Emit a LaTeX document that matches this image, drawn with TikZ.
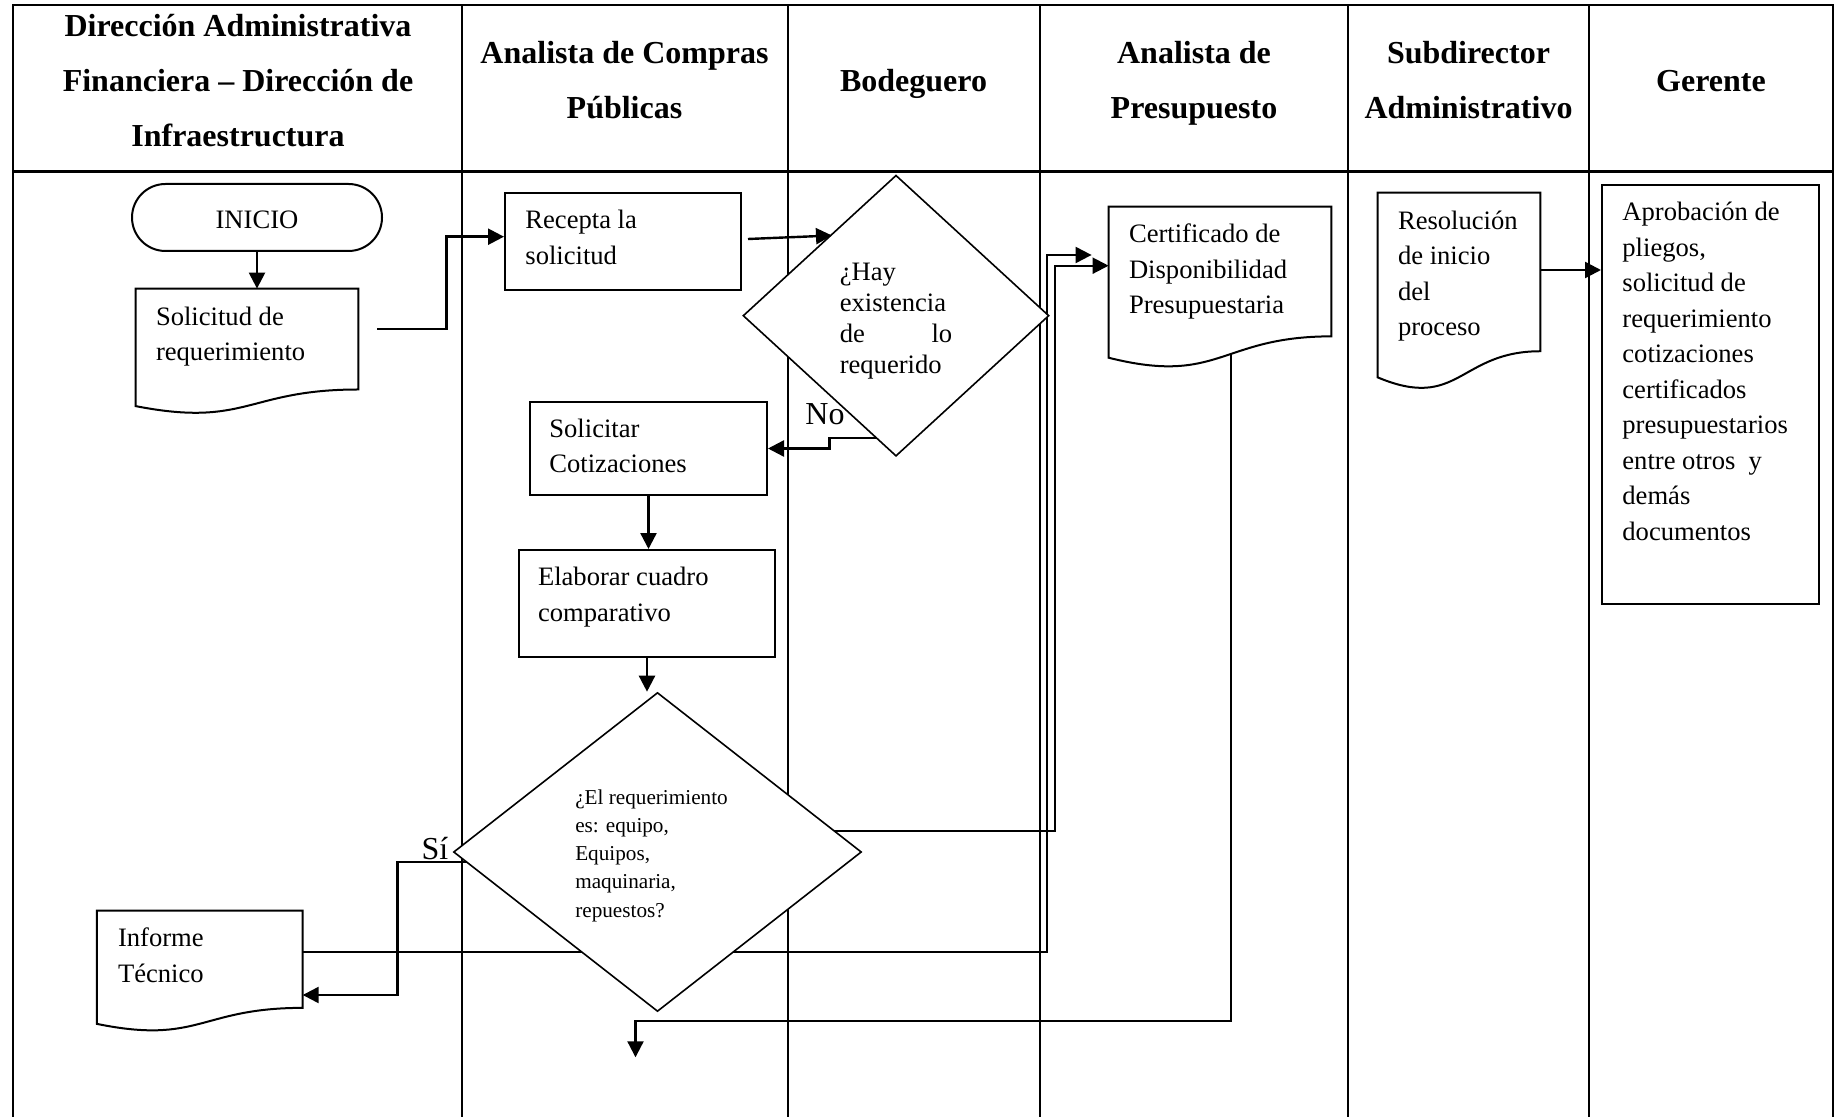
\documentclass[tikz,border=0pt]{standalone}
\usepackage{fontspec}
\setmainfont{Liberation Serif}
\usetikzlibrary{arrows.meta,calc,shapes.geometric,shapes.misc}
\pgfdeclarelayer{under}
\pgfdeclarelayer{docs}
\pgfsetlayers{under,docs,main}

% outline of a "document" flowchart symbol drawn around an empty node
\newcommand\docoutline[1]{%
  \begin{pgfonlayer}{docs}
    \draw[docline] (#1.north west) -- (#1.north east)
      -- ($(#1.north east)!0.802!(#1.south east)$)
      .. controls ($(#1.north)!0.802!(#1.south)$) and ($(#1.north)!1.107!(#1.south)$)
      .. ($(#1.north west)!0.934!(#1.south west)$) -- cycle;
  \end{pgfonlayer}}
% uniform line height for the header cells
\newcommand\hl{\vphantom{Ápy}}

\begin{document}
\begin{tikzpicture}[x=0.5pt, y=-0.5pt,
  lane/.style={line width=1pt},
  headsep/.style={line width=1.4pt},
  hdr/.style={font=\fontsize{16}{27.5}\selectfont\bfseries, align=center, inner sep=0pt},
  txt/.style={font=\fontsize{13.3}{17.75}\selectfont, align=left, inner sep=0pt, anchor=north west},
  procbox/.style={draw, line width=1pt, fill=white, inner sep=0pt},
  docbox/.style={inner sep=0pt},
  docline/.style={draw, line width=1pt, fill=white},
  decision/.style={diamond, draw, line width=0.8pt, fill=white, inner sep=0pt},
  branch/.style={font=\fontsize{16}{19}\selectfont, inner sep=0pt},
  flow/.style={line width=1.2pt, -{Triangle[length=8pt,width=8pt]}},
  thinflow/.style={line width=1.05pt, -{Triangle[length=8pt,width=8pt]}},
]
\useasboundingbox (0,0) rectangle (1836,1117);

% ---------- swimlane headers ----------
\node[hdr] (h1) at (238,81) {Dirección Administrativa\hl\\Financiera – Dirección de\hl\\Infraestructura\hl};
\node[hdr] (h2) at (624.5,81) {Analista de Compras\hl\\Públicas\hl};
\node[hdr] (h3) at (913.5,81) {Bodeguero\hl};
\node[hdr] (h4) at (1194,81) {Analista de\hl\\Presupuesto\hl};
\node[hdr] (h5) at (1468.5,81) {Subdirector\hl\\Administrativo\hl};
\node[hdr] (h6) at (1711,81) {Gerente\hl};

% ---------- flowchart symbols ----------
\node[procbox, rounded rectangle, minimum width=125pt, minimum height=33.5pt,
      font=\fontsize{13.3}{17.75}\selectfont] (ini) at (257,217.5)
     {\raisebox{-5.6pt}[0pt][0pt]{INICIO}};
\node[docbox, minimum width=111pt, minimum height=62.5pt] (sol) at (247,351.5) {};
\node[procbox, minimum width=118pt, minimum height=48.5pt] (rec) at (623,241.5) {};
\node[decision, minimum width=153pt, minimum height=140.5pt] (hay) at (896,315.7) {};
\node[procbox, minimum width=118.5pt, minimum height=46.5pt] (solc) at (648.5,448.5) {};
\node[procbox, minimum width=128pt, minimum height=53.5pt] (ela) at (647,603.5) {};
\node[decision, minimum width=204pt, minimum height=159.5pt] (req) at (657.5,852) {};
\node[docbox, minimum width=102.5pt, minimum height=60.3pt] (inf) at (199.8,971.2) {};
\node[docbox, minimum width=111pt, minimum height=80.5pt] (cert) at (1220,287.5) {};
\node[docbox, minimum width=81pt, minimum height=98.5pt] (res) at (1459,291.5) {};
\node[procbox, minimum width=108.5pt, minimum height=209.5pt] (apr) at (1710.5,394.5) {};

\docoutline{sol}
\docoutline{inf}
\docoutline{cert}
\docoutline{res}

% ---------- texts of the symbols ----------
\node[txt] (tsol) at ($(sol.north west)+(20,18)$) {Solicitud de\\requerimiento};
\node[txt] (trec) at ($(rec.north west)+(21,18)$) {Recepta la\\solicitud};
\node[txt] (tsolc) at ($(solc.north west)+(20,17.5)$) {Solicitar\\Cotizaciones};
\node[txt] (tela) at ($(ela.north west)+(19.6,18)$) {Elaborar cuadro\\comparativo};
\node[txt] (tinf) at ($(inf.north west)+(20.7,17)$) {Informe\\Técnico};
\node[txt] (tcert) at ($(cert.north west)+(20,17)$) {Certificado de\\Disponibilidad\\Presupuestaria};
\node[txt] (tres) at ($(res.north west)+(20,18)$) {Resolución\\de inicio\\del\\proceso};
\node[txt] (tapr) at ($(apr.north west)+(21,18)$)
     {Aprobación de\\pliegos,\\solicitud de\\requerimiento\\cotizaciones\\certificados\\presupuestarios\\entre otros~ y\\demás\\documentos};
\node[align=left, inner sep=0pt, font=\fontsize{13.3}{15.5}\selectfont] (thay)
     at ($(hay.center)+(0,5.5)$)
     {¿Hay\\existencia\\\makebox[56.25pt][s]{de\hfill lo}\\requerido};
\node[align=left, inner sep=0pt, font=\fontsize{10.6}{14.15}\selectfont] (treq)
     at ($(req.center)+(-6,3.5)$)
     {¿El requerimiento\\es: equipo,\\Equipos,\\maquinaria,\\repuestos?};

\node[branch] (no) at (825,414) {No};
\node[branch] (si) at (435,849) {Sí};

% ---------- lanes and connectors ----------
\begin{pgfonlayer}{under}
  \draw[lane] (13.3,1117) -- (13.3,5) -- (1832.7,5) -- (1832.7,1117);
  \draw[headsep] (13.3,171.7) -- (1832.7,171.7);
  \foreach \x in {461.7,787.5,1040,1348,1589}
    \draw[lane] (\x,5) -- (\x,1117);

  \draw[flow] (ini.south) -- (ini.south |- sol.north);
  \draw[flow] ($(sol.east)+(19,-22.5)$) -- ++(69,0) |- ($(rec.west)+(0,-4.8)$);
  \draw[flow] ($(rec.east)+(6,-2.5)$) -- ($(hay.center)+(-64,-80.2)$);
  \draw[flow] ($(hay.center)+(0,122.6)$) -- ++(-66.5,0) |- (solc.east);
  \draw[flow] (solc.south) -- (solc.south |- ela.north);
  \draw[flow] (ela.south) -- (ela.south |- req.north);
  \draw[flow] ($(req.west)+(20,9.7)$) -- ($(req.west)+(-55.2,9.7)$) |- ($(inf.east)+(0,23.8)$);
  \draw[thinflow] ($(inf.east)+(0,-19.5)$) -| ($(cert.west)+(-62,-32.5)$) -- ($(cert.west)+(-17,-32.5)$);
  \draw[thinflow] ($(req.center)+(100,-21)$) -| ($(cert.west)+(-54,-21.8)$) -- ($(cert.west)+(0,-21.8)$);
  \draw[flow] ($(res.east)+(-3,-21.5)$) -- ($(apr.west)+(0,-124.5)$);
  \coordinate (fin) at (635.5,1057.3);
  \draw[thinflow] ($(cert.center)+(11,0)$) |- ($(fin)+(0,-36.6)$) -- (fin);
\end{pgfonlayer}
\end{tikzpicture}
\end{document}
